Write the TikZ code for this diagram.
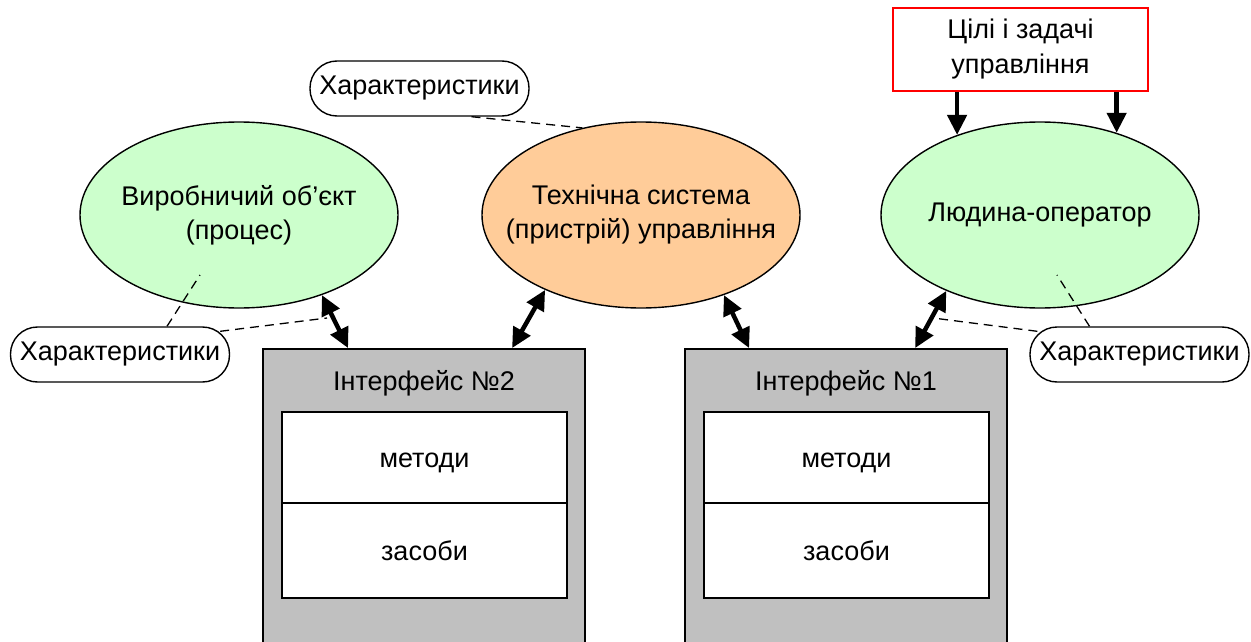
\documentclass[tikz,border=0pt]{standalone}
\usepackage{fontspec}
\setmainfont{Liberation Sans}
\usetikzlibrary{arrows.meta,calc,shapes.geometric}

\definecolor{objgreen}{HTML}{CCFFCC}
\definecolor{sysorange}{HTML}{FFCC99}
\definecolor{ifgray}{HTML}{C0C0C0}

\tikzset{
  every node/.style={font=\fontsize{27}{34}\selectfont, inner sep=0pt},
  oval/.style={ellipse, draw, line width=1.4pt, inner sep=-30pt, minimum width=318pt, minimum height=186pt, align=center},
  callout/.style={draw, line width=1.4pt, rounded corners=27pt, minimum width=219pt, minimum height=55pt},
  goalbox/.style={draw=red, line width=1.4pt, fill=white, minimum width=255pt, minimum height=83pt, align=center,
                  font=\fontsize{27}{35}\selectfont},
  ifbox/.style={draw, line width=1.8pt, fill=ifgray, minimum width=322pt, minimum height=311pt},
  partbox/.style={draw, line width=1.8pt, fill=white, minimum width=285pt, text height=22pt, text depth=3pt},
  dbl/.style={line width=4.5pt, {Triangle[length=20pt,width=19pt]}-{Triangle[length=20pt,width=19pt]}},
  single/.style={line width=4.5pt, -{Triangle[length=20pt,width=19pt]}},
  link/.style={line width=1.3pt, dash pattern=on 9pt off 6pt}
}

\begin{document}
\begin{tikzpicture}[x=1pt, y=-1pt]
  \useasboundingbox (0,0) rectangle (1251,642);
  \clip (0,0) rectangle (1251,642);

  % interface blocks (running off the lower edge)
  \node[ifbox] (if2) at (424,504.5) {};
  \node (if2t) at (424,383) {Інтерфейс №2};
  \node[partbox, minimum height=91pt] (m2) at (424.5,457.5) {методи};
  \node[partbox, minimum height=95pt] (z2) at (424.5,550.5) {засоби};

  \node[ifbox] (if1) at (846,504.5) {};
  \node (if1t) at (846,383) {Інтерфейс №1};
  \node[partbox, minimum height=91pt] (m1) at (846.5,457.5) {методи};
  \node[partbox, minimum height=95pt] (z1) at (846.5,550.5) {засоби};

  % main elements
  \node[oval, fill=objgreen] (e1) at (239,215) {Виробничий об’єкт\\(процес)};
  \node[oval, fill=sysorange] (e2) at (641,215) {Технічна система\\(пристрій) управління};
  \node[oval, fill=objgreen] (e3) at (1040,215) {Людина-оператор};

  \node[goalbox] (goal) at (1020.5,49.5) {Цілі і задачі\\управління};

  % characteristic callouts
  \node[callout] (c1) at (419.5,88.5) {Характеристики};
  \node[callout] (c2) at (120,354.5) {Характеристики};
  \node[callout] (c3) at (1139.5,354.5) {Характеристики};

  % exchange arrows
  \draw[dbl] (e1.-44) -- ([xshift=86pt]if2.north west);
  \draw[dbl] (e2.218) -- ([xshift=250pt]if2.north west);
  \draw[dbl] (e2.-44) -- ([xshift=65pt]if1.north west);
  \draw[dbl] (e3.219) -- ([xshift=231pt]if1.north west);

  % goals to operator
  \draw[single] (goal.south -| e3.136) -- (e3.136);
  \draw[single] (goal.south -| e3.47.5) -- (e3.47.5);

  % dashed callout links
  \draw[link] ([xshift=52pt]c1.south) -- (e2.124);
  \draw[link] ([xshift=47pt]c2.north) -- ($(e1.center)+(-39,60)$);
  \draw[link] ($(c2.north east)+(-10,5)$) -- ($(e1.center)+(88,103)$);
  \draw[link] ([xshift=-50pt]c3.north) -- ($(e3.center)+(17,60)$);
  \draw[link] ($(c3.north west)+(8,5)$) -- ($(e3.center)+(-107,103)$);
\end{tikzpicture}
\end{document}
